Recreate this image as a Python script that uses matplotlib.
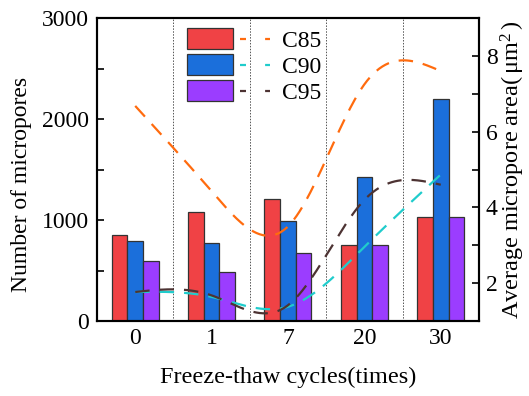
import numpy as np
import matplotlib
matplotlib.use("Agg")
import matplotlib.pyplot as plt
from matplotlib.ticker import MultipleLocator
from matplotlib.legend_handler import HandlerBase
from matplotlib.patches import Rectangle
from matplotlib.lines import Line2D

plt.rcParams['font.family'] = ['Liberation Serif', 'DejaVu Serif']
plt.rcParams['mathtext.fontset'] = 'custom'
plt.rcParams['mathtext.rm'] = 'Liberation Serif'
plt.rcParams['mathtext.it'] = 'Liberation Serif:italic'

# freeze-thaw cycles
cycles = ["0", "1", "7", "20", "30"]
series = ["C85", "C90", "C95"]

# number of micropores (left axis)
count_c85 = [855, 1082, 1210, 752, 1027]
count_c90 = [789, 769, 987, 1430, 2200]
count_c95 = [594, 488, 676, 752, 1027]

# average micropore area, um^2 (right axis)
area_c85 = [6.68, 4.43, 3.50, 7.25, 7.60]
area_c90 = [1.77, 1.64, 1.38, 2.96, 4.87]
area_c95 = [1.77, 1.68, 1.42, 4.20, 4.60]

bar_colors = ["#F04245", "#1B6FDB", "#9B3DFF"]
line_colors = ["#FF6B0E", "#20CCCC", "#4D3333"]
EDGE = "#333333"


def natural_spline(x, y, n=200):
    # smooth connecting curve through the measured points
    x = np.asarray(x, float)
    y = np.asarray(y, float)
    k = len(x)
    h = np.diff(x)
    A = np.zeros((k, k))
    r = np.zeros(k)
    A[0, 0] = A[-1, -1] = 1
    for i in range(1, k - 1):
        A[i, i - 1] = h[i - 1]
        A[i, i] = 2 * (h[i - 1] + h[i])
        A[i, i + 1] = h[i]
        r[i] = 3 * ((y[i + 1] - y[i]) / h[i] - (y[i] - y[i - 1]) / h[i - 1])
    c = np.linalg.solve(A, r)
    xs = np.linspace(x[0], x[-1], n)
    idx = np.clip(np.searchsorted(x, xs) - 1, 0, k - 2)
    dx = xs - x[idx]
    b = (y[idx + 1] - y[idx]) / h[idx] - h[idx] * (2 * c[idx] + c[idx + 1]) / 3
    d = (c[idx + 1] - c[idx]) / (3 * h[idx])
    ys = y[idx] + b * dx + c[idx] * dx ** 2 + d * dx ** 3
    return xs, ys


class BarLineHandler(HandlerBase):
    """legend key: colour box followed by a short dashed line"""

    def create_artists(self, legend, orig_handle, xdescent, ydescent,
                       width, height, fontsize, trans):
        bar_color, line_color = orig_handle
        box_w = width * 0.555
        gap = width * 0.085
        rect = Rectangle((-xdescent, -ydescent), box_w, height * 1.05,
                         facecolor=bar_color, edgecolor=EDGE, linewidth=0.9,
                         transform=trans)
        y = -ydescent + height / 2
        ln = Line2D([-xdescent + box_w + gap, -xdescent + width], [y, y],
                    color=line_color, linewidth=1.6, linestyle=(0, (2.7, 8.6)),
                    transform=trans)
        return [rect, ln]


fig = plt.figure(figsize=(5.29, 3.96), dpi=100)
ax = fig.add_axes([0.1834, 0.189, 0.722, 0.7655])
ax2 = ax.twinx()

x = np.arange(len(cycles))
width = 0.205
counts = [count_c85, count_c90, count_c95]
for i, vals in enumerate(counts):
    ax.bar(x + (i - 1) * width, vals, width, color=bar_colors[i],
           edgecolor=EDGE, linewidth=0.9, zorder=2)

for xv in np.arange(0.5, len(cycles) - 1, 1.0):
    ax.axvline(xv, color="#555555", linestyle=(0, (1.5, 1.5)), linewidth=0.7, zorder=1)

areas = [area_c85, area_c90, area_c95]
for i, vals in enumerate(areas):
    xs, ys = natural_spline(x, vals)
    ax2.plot(xs, ys, color=line_colors[i], linestyle=(0, (6.5, 4.5)), linewidth=1.6)

ax.set_xlim(-0.5, 4.5)
ax.set_ylim(0, 3000)
ax2.set_ylim(1, 9)

ax.set_xticks(x)
ax.set_xticklabels(cycles)
ax.yaxis.set_major_locator(MultipleLocator(1000))
ax.yaxis.set_minor_locator(MultipleLocator(500))
ax2.yaxis.set_major_locator(MultipleLocator(2))
ax2.yaxis.set_minor_locator(MultipleLocator(1))

fs = 17
ax.tick_params(axis="x", length=0, labelsize=fs, pad=5)
ax.tick_params(axis="y", which="both", direction="in", length=5, width=1.2, labelsize=fs, pad=6)
ax2.tick_params(axis="y", which="both", direction="in", length=5, width=1.2, labelsize=fs, pad=5)
for a in (ax, ax2):
    for s in a.spines.values():
        s.set_linewidth(1.5)

ax.set_xlabel("Freeze-thaw cycles(times)", fontsize=17.5, labelpad=13)
ax.set_ylabel("Number of micropores", fontsize=fs)
ax.yaxis.set_label_coords(-0.170, 0.452)
ax2.set_ylabel(r"Average micropore area($\,\mathrm{\mu m}^2\,$)", fontsize=17.5, labelpad=1)

keys = list(zip(bar_colors, line_colors))
ax2.legend(keys, series, handler_map={tuple: BarLineHandler()},
           loc="upper left", bbox_to_anchor=(0.2356, 0.965), frameon=False,
           fontsize=fs, handlelength=3.52, handleheight=0.93, labelspacing=0.12,
           borderpad=0, borderaxespad=0, handletextpad=0.5)

fig.savefig("out.png", dpi=100)
